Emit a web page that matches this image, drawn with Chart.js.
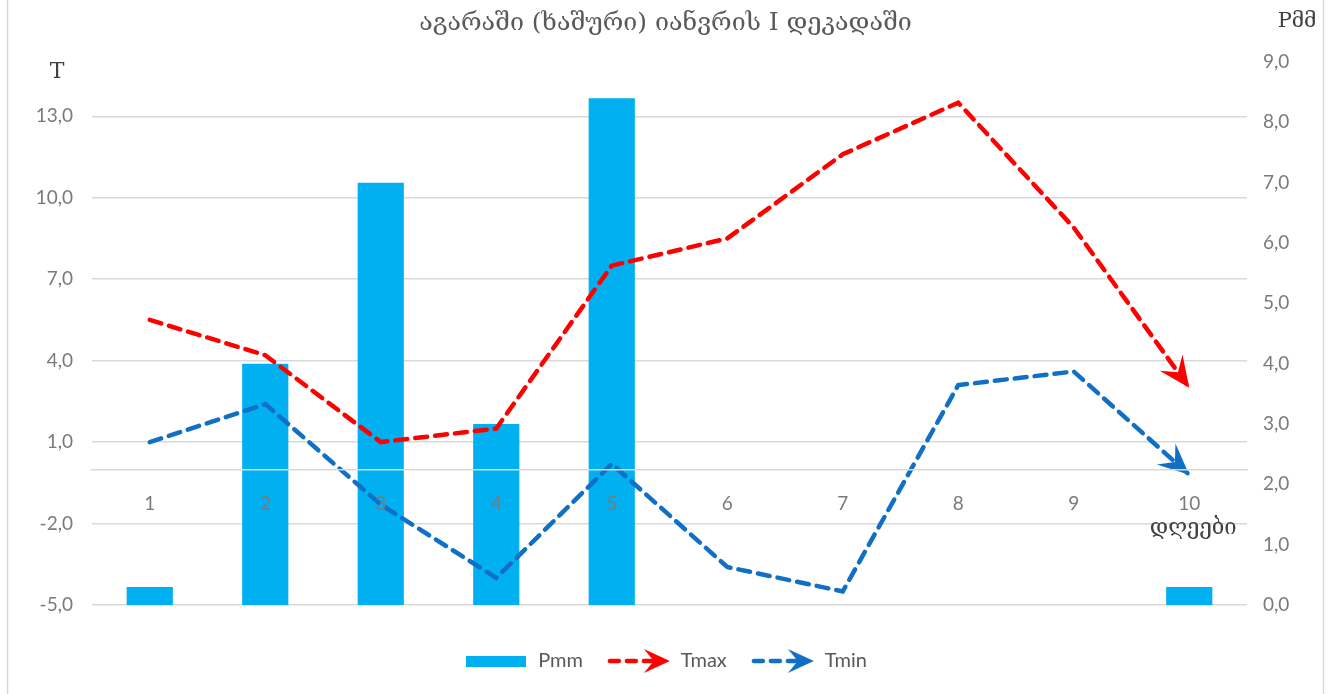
<!DOCTYPE html>
<html>
<head>
<meta charset="utf-8">
<script src="https://cdn.jsdelivr.net/npm/chart.js@4.4.1/dist/chart.umd.min.js"></script>
<style>
  html, body { margin: 0; padding: 0; background: #fff; }
  #wrap { width: 1331px; height: 694px; position: relative; }
</style>
</head>
<body>
<div id="wrap"><canvas id="mChart" width="1331" height="694"></canvas></div>
<script>
// days of the first January decade
const days = ['1', '2', '3', '4', '5', '6', '7', '8', '9', '10'];
const pmm  = [0.3, 4.0, 7.0, 3.0, 8.4, 0, 0, 0, 0, 0.3];          // precipitation, mm (right axis)
const tmax = [5.5, 4.2, 1.0, 1.5, 7.5, 8.5, 11.6, 13.5, 8.9, 3.0]; // max temperature (left axis)
const tmin = [1.0, 2.4, -1.3, -4.0, 0.2, -3.6, -4.5, 3.1, 3.6, -0.2];

const titleText = 'აგარაში (ხაშური) იანვრის I დეკადაში';
const leftTicks  = [-5, -2, 1, 4, 7, 10, 13];
const rightTicks = [0, 1, 2, 3, 4, 5, 6, 7, 8, 9];

const BAR_COLOR  = '#00b0f0';
const TMAX_COLOR = '#ff0000';
const TMIN_COLOR = '#1170c4';
const GRID = '#d9d9d9';
const LABEL = '#7a7a7a';
const NARROW = "Lato, 'Open Sans', sans-serif";
const GEO = "'DejaVu Serif', 'DejaVu Sans', serif";

const fmt = v => Number(v).toFixed(1).replace('.', ',');

/* ───────── arrow helpers ───────── */

function drawArrow(ctx, x, y, angle, color, len, half) {
  ctx.save();
  ctx.translate(x, y);
  ctx.rotate(angle);
  ctx.fillStyle = color;
  ctx.beginPath();
  ctx.moveTo(0, 0);
  ctx.lineTo(-len, -half);
  ctx.lineTo(-len * 0.62, 0);
  ctx.lineTo(-len, half);
  ctx.closePath();
  ctx.fill();
  ctx.restore();
}

function legendLine(color) {
  const c = document.createElement('canvas');
  c.width = 66; c.height = 26;
  const ctx = c.getContext('2d');
  ctx.strokeStyle = color;
  ctx.lineWidth = 4.5;
  ctx.lineCap = 'round';
  ctx.setLineDash([9, 8]);
  ctx.beginPath();
  ctx.moveTo(4, 13);
  ctx.lineTo(46, 13);
  ctx.stroke();
  drawArrow(ctx, 64, 13, 0, color, 26, 12);
  return c;
}

function legendBox() {
  const c = document.createElement('canvas');
  c.width = 60; c.height = 11;
  const ctx = c.getContext('2d');
  ctx.fillStyle = BAR_COLOR;
  ctx.fillRect(0, 0, 60, 11);
  return c;
}

const arrowPlugin = {
  id: 'arrows',
  afterDatasetsDraw(chart) {
    const ctx = chart.ctx;
    chart.data.datasets.forEach((ds, i) => {
      if (ds.type !== 'line') return;
      const pts = chart.getDatasetMeta(i).data;
      const a = pts[pts.length - 2], b = pts[pts.length - 1];
      const ang = Math.atan2(b.y - a.y, b.x - a.x);
      drawArrow(ctx, b.x, b.y, ang, ds.borderColor, 31, 14);
    });
  }
};

const framePlugin = {
  id: 'frame',
  beforeDraw(chart) {
    const ctx = chart.ctx;
    ctx.save();
    ctx.fillStyle = '#fff';
    ctx.fillRect(0, 0, chart.width, chart.height);
    ctx.strokeStyle = GRID;
    ctx.lineWidth = 1.5;
    ctx.beginPath();
    ctx.moveTo(7.5, 0); ctx.lineTo(7.5, chart.height);
    ctx.moveTo(1323.5, 0); ctx.lineTo(1323.5, chart.height);
    ctx.stroke();
    ctx.restore();
  },
  afterDraw(chart) {
    const ctx = chart.ctx, area = chart.chartArea;
    const x = chart.scales.x, yl = chart.scales.y;
    ctx.save();
    ctx.fillStyle = '#404040';
    ctx.textBaseline = 'middle';
    ctx.textAlign = 'center';
    ctx.font = "22px 'DejaVu Serif', serif";
    ctx.fillText('T', area.left - 35, area.top + 10);
    ctx.font = "21px " + GEO;
    ctx.fillText('Pმმ', area.right + 50, 22);
    ctx.font = "22px " + GEO;
    ctx.fillText('დღეები', x.getPixelForValue(days.length - 1) + 4, yl.getPixelForValue(0) + 59);
    ctx.restore();
  }
};

const chart = new Chart(document.getElementById('mChart'), {
  data: {
    labels: days,
    datasets: [
      { type: 'bar', label: 'Pmm', data: pmm, yAxisID: 'y1', backgroundColor: BAR_COLOR,
        categoryPercentage: 1, barPercentage: 0.4, order: 3 },
      { type: 'line', label: 'Tmax', data: tmax, yAxisID: 'y', borderColor: TMAX_COLOR,
        borderWidth: 4.5, borderDash: [12, 8], borderCapStyle: 'round', pointRadius: 0,
        tension: 0, order: 1 },
      { type: 'line', label: 'Tmin', data: tmin, yAxisID: 'y', borderColor: TMIN_COLOR,
        borderWidth: 4.5, borderDash: [12, 8], borderCapStyle: 'round', pointRadius: 0,
        tension: 0, order: 2 }
    ]
  },
  options: {
    responsive: false,
    animation: false,
    layout: { padding: { left: 0, right: 0, top: 0, bottom: 13 } },
    plugins: {
      tooltip: { enabled: false },
      title: {
        display: true,
        text: titleText,
        color: '#595959',
        font: { family: GEO, size: 25, weight: 'normal' },
        padding: { top: 8, bottom: 24 }
      },
      legend: {
        position: 'bottom',
        title: { display: true, text: ' ', font: { size: 10 }, padding: { top: 0, bottom: 10 } },
        labels: {
          usePointStyle: true,
          pointStyleWidth: 64,
          padding: 24,
          color: '#595959',
          font: { family: NARROW, size: 20 },
          generateLabels: () => [
            { text: 'Pmm',  pointStyle: legendBox(),            fontColor: '#595959', datasetIndex: 0 },
            { text: 'Tmax', pointStyle: legendLine(TMAX_COLOR), fontColor: '#595959', datasetIndex: 1 },
            { text: 'Tmin', pointStyle: legendLine(TMIN_COLOR), fontColor: '#595959', datasetIndex: 2 }
          ]
        }
      }
    },
    scales: {
      x: {
        position: { y: 0 },
        offset: true,
        grid: { display: false, drawTicks: false },
        border: { display: true, color: GRID, width: 1.5, z: 1 },
        ticks: { color: LABEL, font: { family: NARROW, size: 19 }, padding: 23, z: 1 }
      },
      y: {
        position: 'left',
        min: -5, max: 15,
        afterBuildTicks: s => { s.ticks = leftTicks.map(v => ({ value: v })); },
        afterFit: s => { s.width = 92; },
        grid: { color: GRID, lineWidth: 1.5, drawTicks: false },
        border: { display: false },
        ticks: { color: LABEL, font: { family: NARROW, size: 19 }, padding: 19, callback: fmt }
      },
      y1: {
        position: 'right',
        min: 0, max: 9,
        afterBuildTicks: s => { s.ticks = rightTicks.map(v => ({ value: v })); },
        afterFit: s => { s.width = 84; },
        grid: { display: false, drawTicks: false },
        border: { display: false },
        ticks: { color: LABEL, font: { family: NARROW, size: 19 }, padding: 16, callback: fmt }
      }
    }
  },
  plugins: [framePlugin, arrowPlugin]
});
</script>
</body>
</html>
